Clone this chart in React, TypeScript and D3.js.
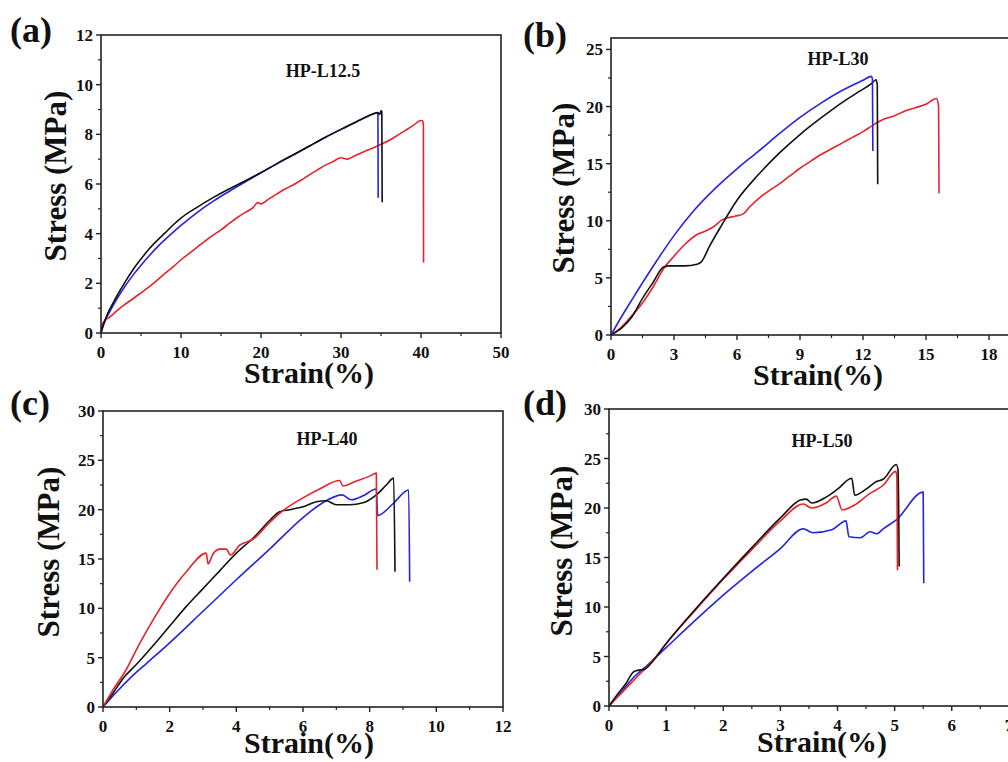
import React from 'react';
import * as d3 from 'd3';

type Pt = [number, number];

// ---------- Data (strain %, stress MPa) ----------
const aBlack: Pt[] = [[0,0],[0.3,0.35],[0.6,0.6],[1,0.9],[1.5,1.2],[2,1.5],[3,2.05],[4,2.55],[5,2.98],[6,3.38],[7,3.72],[8,4.03],[9,4.35],[10,4.63],[12,5.06],[14,5.45],[16,5.8],[18,6.12],[20,6.46],[22,6.82],[24,7.17],[26,7.52],[28,7.87],[30,8.2],[32,8.52],[34,8.82],[34.6,8.88],[34.85,8.8],[35.0,8.95],[35.1,8.92],[35.15,5.27]];
const aBlue: Pt[] = [[0,0],[0.3,0.3],[0.6,0.55],[1,0.8],[1.5,1.1],[2,1.38],[3,1.88],[4,2.33],[5,2.73],[6,3.1],[7,3.45],[8,3.76],[9,4.05],[10,4.33],[12,4.85],[14,5.3],[16,5.7],[18,6.08],[20,6.45],[22,6.82],[24,7.17],[26,7.52],[28,7.87],[30,8.2],[32,8.52],[34,8.82],[34.5,8.87],[34.62,8.8],[34.65,5.45]];
const aRed: Pt[] = [[0,0],[0.15,0.3],[0.4,0.48],[1,0.62],[2,0.9],[3,1.15],[4,1.38],[5,1.62],[6,1.86],[7,2.12],[8,2.4],[9,2.66],[10,2.95],[11,3.2],[12,3.45],[13,3.7],[14,3.94],[15,4.15],[16,4.4],[17,4.64],[18,4.85],[19,5.05],[19.6,5.25],[20,5.2],[21,5.4],[22,5.6],[23,5.8],[24,5.96],[25,6.15],[26,6.36],[27,6.56],[28,6.75],[29,6.9],[30,7.06],[30.8,7.0],[31.5,7.1],[32,7.18],[33,7.32],[34,7.45],[35,7.6],[36,7.75],[37,7.95],[38,8.15],[39,8.35],[40,8.56],[40.2,8.55],[40.3,8.35],[40.32,2.84]];

const bBlack: Pt[] = [[0,0],[0.5,0.6],[1,1.6],[1.5,3.2],[2,4.6],[2.5,5.95],[2.8,6.05],[3.5,6.05],[4.1,6.2],[4.3,6.4],[4.7,7.8],[5.2,9.4],[6,11.8],[7,14.0],[8,15.9],[9,17.55],[10,19.0],[11,20.35],[11.8,21.3],[12.4,22.0],[12.62,22.35],[12.68,21.9],[12.7,13.2]];
const bBlue: Pt[] = [[0,0],[0.5,1.6],[1,3.1],[2,6.0],[3,8.7],[4,11.0],[5,12.9],[6,14.55],[7,16.05],[8,17.6],[9,19.05],[10,20.3],[11,21.4],[12,22.3],[12.4,22.64],[12.45,22.4],[12.47,16.1]];
const bRed: Pt[] = [[0,0],[0.5,0.7],[1,1.7],[1.5,2.8],[2,4.2],[2.5,5.8],[3,6.9],[3.5,7.9],[4.1,8.8],[4.5,9.1],[4.9,9.5],[5.3,10.1],[5.9,10.4],[6.3,10.6],[6.6,11.2],[7,11.9],[7.5,12.6],[8,13.2],[8.5,13.9],[9,14.6],[9.5,15.2],[10,15.8],[10.5,16.3],[11,16.8],[11.5,17.3],[12,17.8],[12.5,18.4],[13,18.9],[13.5,19.2],[14,19.6],[14.5,19.9],[15,20.2],[15.5,20.7],[15.6,20.0],[15.62,12.4]];

const cBlack: Pt[] = [[0,0],[0.3,1.4],[0.6,2.9],[1,4.3],[1.5,6.2],[2,8.2],[2.5,10.2],[3,12.0],[3.5,13.8],[4,15.6],[4.5,17.1],[5,18.9],[5.3,19.8],[5.6,20.0],[6,20.3],[6.4,20.8],[6.7,20.9],[7.0,20.5],[7.4,20.5],[7.8,20.7],[8.2,21.5],[8.5,22.5],[8.72,23.2],[8.76,13.7]];
const cRed: Pt[] = [[0,0],[0.35,2.0],[0.7,3.8],[1,5.8],[1.5,8.8],[2,11.5],[2.5,13.7],[3.1,15.6],[3.15,14.5],[3.3,15.5],[3.5,16.0],[3.7,16.0],[3.82,15.4],[4.1,16.4],[4.5,17.0],[5,18.7],[5.4,19.9],[6,21.2],[6.5,22.1],[7.1,22.95],[7.2,22.4],[7.6,22.9],[8.0,23.4],[8.2,23.7],[8.22,13.9]];
const cBlue: Pt[] = [[0,0],[0.4,1.5],[0.9,3.2],[1.3,4.4],[2,6.5],[3,9.7],[4,12.9],[5,16.0],[6,19.2],[6.5,20.5],[7.17,21.5],[7.45,21.0],[7.8,21.4],[8.2,22.1],[8.24,19.4],[8.7,20.6],[9.17,22.0],[9.2,12.7]];

const dBlack: Pt[] = [[0,0],[0.15,1.2],[0.3,2.3],[0.42,3.4],[0.5,3.6],[0.62,3.7],[0.75,4.4],[1,6.3],[1.5,9.7],[2,12.9],[2.5,16.0],[3,19.0],[3.35,20.8],[3.45,20.9],[3.55,20.5],[3.8,21.1],[4.0,21.9],[4.25,23.0],[4.3,21.3],[4.5,21.9],[4.69,22.7],[4.8,22.9],[5.03,24.4],[5.06,23.8],[5.08,14.1]];
const dRed: Pt[] = [[0,0],[0.2,1.2],[0.5,3.0],[0.75,4.5],[1,6.3],[1.5,9.6],[2,12.8],[2.5,15.8],[3,18.7],[3.4,20.4],[3.55,20.0],[3.8,20.5],[3.98,21.2],[4.08,19.8],[4.3,20.3],[4.55,21.4],[4.8,22.3],[5.02,23.7],[5.04,23.2],[5.05,13.7]];
const dBlue: Pt[] = [[0,0],[0.2,1.3],[0.45,3.0],[0.65,4.0],[1,5.9],[1.5,8.6],[2,11.2],[2.5,13.6],[3,15.9],[3.4,17.9],[3.57,17.5],[3.9,17.8],[4.15,18.7],[4.2,17.1],[4.4,17.0],[4.57,17.6],[4.69,17.4],[4.8,17.9],[5.03,18.8],[5.5,21.6],[5.51,12.4]];

const panelLetters = ['(a)', '(b)', '(c)', '(d)'];
const sampleNames = ['HP-L12.5', 'HP-L30', 'HP-L40', 'HP-L50'];
const xDomains: [number, number][] = [[0, 50], [0, 21], [0, 12], [0, 8]];
const yDomains: [number, number][] = [[0, 12], [0, 26], [0, 30], [0, 30]];
const xTickSteps = [10, 3, 2, 1];
const yTickSteps = [2, 5, 5, 5];
const seriesData: Pt[][][] = [
  [aRed, aBlue, aBlack],
  [bRed, bBlack, bBlue],
  [cBlue, cBlack, cRed],
  [dBlue, dRed, dBlack],
];
const seriesColorsPerPanel = [
  ['#e5232a', '#2424e0', '#111111'],
  ['#e5232a', '#111111', '#2424e0'],
  ['#2424e0', '#111111', '#e5232a'],
  ['#2424e0', '#e5232a', '#111111'],
];

// ---------- Layout ----------
const boxes = [
  { left: 101, right: 501, top: 35, bottom: 333 },
  { left: 611, right: 1052, top: 38, bottom: 335 },
  { left: 103, right: 503, top: 411, bottom: 707 },
  { left: 609, right: 1066, top: 409, bottom: 706 },
];
const letterPos = [[10, 42], [523, 47], [10, 415], [523, 415]];
const namePos = [[323, 77], [838, 65], [327, 445], [822, 447]];
const xTitlePos = [[309, 383], [818, 385], [309, 753], [822, 752]];
const yTitlePos = [[66, 176], [574, 188], [59, 552], [572, 551]];
const VIEW_W = 1008;

const FONT = "'Liberation Serif', 'Times New Roman', Times, serif";

function Panel({ i }: { i: number }) {
  const b = boxes[i];
  const x = d3.scaleLinear().domain(xDomains[i]).range([b.left, b.right]);
  const y = d3.scaleLinear().domain(yDomains[i]).range([b.bottom, b.top]);
  const xs = xTickSteps[i];
  const ys = yTickSteps[i];
  const xMajor = d3.range(xDomains[i][0], xDomains[i][1] + 1e-9, xs).filter(v => x(v) < VIEW_W + 4);
  const xMinor = d3.range(xDomains[i][0] + xs / 2, xDomains[i][1] + 1e-9, xs).filter(v => x(v) < VIEW_W + 4);
  const yMajor = d3.range(yDomains[i][0], yDomains[i][1] + 1e-9, ys);
  const yMinor = d3.range(yDomains[i][0] + ys / 2, yDomains[i][1] + 1e-9, ys);
  const line = d3.line<Pt>().x(d => x(d[0])).y(d => y(d[1])).curve(d3.curveMonotoneX);
  const fmt = (v: number) => String(+v.toFixed(2));
  const txt = { fontFamily: FONT, fontWeight: 700 as const };
  return (
    <g>
      {seriesData[i].map((s, k) => (
        <path key={k} d={line(s) || ''} fill="none" stroke={seriesColorsPerPanel[i][k]}
          strokeWidth={1.6} strokeLinejoin="round" />
      ))}
      <rect x={b.left} y={b.top} width={b.right - b.left} height={b.bottom - b.top}
        fill="none" stroke="#222" strokeWidth={1.6} />
      {xMajor.map(v => (
        <g key={'xM' + v}>
          <line x1={x(v)} x2={x(v)} y1={b.bottom} y2={b.bottom + 5} stroke="#222" strokeWidth={1.4} />
          <text x={x(v)} y={b.bottom + 24.5} textAnchor="middle" style={{ ...txt, fontSize: 17 }} fill="#111">{fmt(v)}</text>
        </g>
      ))}
      {xMinor.map(v => (
        <line key={'xm' + v} x1={x(v)} x2={x(v)} y1={b.bottom} y2={b.bottom + 3} stroke="#222" strokeWidth={1.2} />
      ))}
      {yMajor.map(v => (
        <g key={'yM' + v}>
          <line x1={b.left - 5} x2={b.left} y1={y(v)} y2={y(v)} stroke="#222" strokeWidth={1.4} />
          <text x={b.left - 8} y={y(v) + 6} textAnchor="end" style={{ ...txt, fontSize: 17 }} fill="#111">{fmt(v)}</text>
        </g>
      ))}
      {yMinor.map(v => (
        <line key={'ym' + v} x1={b.left - 3} x2={b.left} y1={y(v)} y2={y(v)} stroke="#222" strokeWidth={1.2} />
      ))}
      <text x={namePos[i][0]} y={namePos[i][1]} textAnchor="middle" style={{ ...txt, fontSize: 18 }} fill="#111">{sampleNames[i]}</text>
      <text x={letterPos[i][0]} y={letterPos[i][1]} style={{ ...txt, fontSize: 36 }} fill="#111">{panelLetters[i]}</text>
      <text x={xTitlePos[i][0]} y={xTitlePos[i][1]} textAnchor="middle" style={{ ...txt, fontSize: 30 }} fill="#111">Strain(%)</text>
      <text transform={`translate(${yTitlePos[i][0]},${yTitlePos[i][1]}) rotate(-90)`}
        textAnchor="middle" style={{ ...txt, fontSize: 31 }} fill="#111">Stress (MPa)</text>
    </g>
  );
}

export default function App() {
  return (
    <svg width={1008} height={762} viewBox="0 0 1008 762"
      style={{ position: 'absolute', left: 0, top: 0, background: '#fff', display: 'block' }}>
      <rect x={0} y={0} width={1008} height={762} fill="#fff" />
      {[0, 1, 2, 3].map(i => <Panel key={i} i={i} />)}
    </svg>
  );
}
